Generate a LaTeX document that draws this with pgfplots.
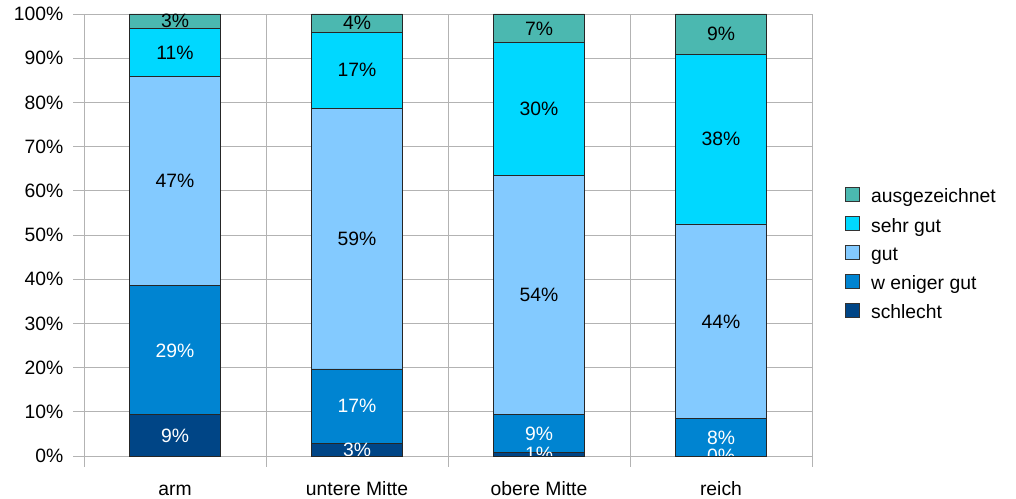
\documentclass[border=0pt]{standalone}
\usepackage{fontspec}
\setmainfont{Liberation Sans}
\usepackage{pgfplots}
\pgfplotsset{compat=1.18}
\definecolor{cSchlecht}{HTML}{004586}
\definecolor{cWeniger}{HTML}{0084D1}
\definecolor{cGut}{HTML}{83CAFF}
\definecolor{cSehr}{HTML}{00D8FF}
\definecolor{cAusg}{HTML}{4BB8B0}
\definecolor{gridgray}{HTML}{B3B3B3}
\newcommand{\chartfont}{\fontsize{14.5pt}{17pt}\selectfont}
\begin{document}
\begin{tikzpicture}
\pgfplotsset{
  common/.style={
    scale only axis, width=546pt, height=331.5pt,
    xmin=-0.5, xmax=3.5, ymin=0, ymax=100,
  }
}
\begin{axis}[common,
  ybar stacked, bar width=0.5,
  font=\chartfont,
  /pgf/number format/assume math mode=true,
  axis line style={gridgray},
  ymajorgrids, xmajorgrids, grid style={gridgray, line width=0.6pt},
  ytick={0,10,...,100}, yticklabel={\pgfmathprintnumber{\tick}\%},
  ytick style={gridgray, line width=0.6pt},
  xtick style={gridgray, line width=0.6pt},
  tick align=outside, major tick length=8pt, tick pos=left,
  xtick={-0.5,0.5,1.5,2.5,3.5}, xticklabels={},
  extra x ticks={0,1,2,3},
  extra x tick labels={arm,untere Mitte,obere Mitte,reich},
  extra x tick style={grid=none, major tick length=0pt, tick style={draw=none},
    xticklabel style={anchor=base, yshift=-29.25pt}},
  yticklabel style={xshift=-4pt},
  reverse legend,
  legend cell align=left,
  legend style={draw=none, fill=none, at={(1.04,0.617)}, anchor=north west,
    font=\chartfont, row sep=6pt},
  legend image code/.code={\draw[#1, draw=black!80] (0pt,-3.5pt) rectangle (10.5pt,7pt);
    \path[draw=none, fill=none] (0pt,0pt) -- (17pt,0pt);},
  every axis plot/.append style={draw=black!85, line width=0.6pt},
]
\addplot[fill=cSchlecht] coordinates {(0,9.3) (1,2.9) (2,0.8) (3,0.0)};
\addplot[fill=cWeniger] coordinates {(0,29.2) (1,16.8) (2,8.6) (3,8.4)};
\addplot[fill=cGut] coordinates {(0,47.4) (1,59.0) (2,54.1) (3,44.1)};
\addplot[fill=cSehr] coordinates {(0,10.8) (1,17.1) (2,30.0) (3,38.3)};
\addplot[fill=cAusg] coordinates {(0,3.3) (1,4.2) (2,6.5) (3,9.2)};
\legend{schlecht, w eniger gut, gut, sehr gut, ausgezeichnet}
\end{axis}
\begin{axis}[common, hide axis, clip marker paths=true,
  nodes near coords, point meta=explicit symbolic,
  every node near coord/.append style={anchor=center, font=\chartfont},
]
\addplot[only marks, mark=none, nodes near coords style={text=white}] table[meta=l] {
x y l
0 4.65 9\%
1 1.45 3\%
2 0.4 1\%
3 0.0 0\%
};
\addplot[only marks, mark=none, nodes near coords style={text=white}] table[meta=l] {
x y l
0 23.9 29\%
1 11.3 17\%
2 5.1 9\%
3 4.2 8\%
};
\addplot[only marks, mark=none, nodes near coords style={text=black}] table[meta=l] {
x y l
0 62.2 47\%
1 49.2 59\%
2 36.45 54\%
3 30.45 44\%
};
\addplot[only marks, mark=none, nodes near coords style={text=black}] table[meta=l] {
x y l
0 91.3 11\%
1 87.25 17\%
2 78.5 30\%
3 71.65 38\%
};
\addplot[only marks, mark=none, nodes near coords style={text=black}] table[meta=l] {
x y l
0 98.35 3\%
1 97.9 4\%
2 96.75 7\%
3 95.4 9\%
};
\end{axis}
\pgfresetboundingbox
\path (current axis.south west) ++(-63pt,-32.25pt) rectangle ++(762pt,374.25pt);
\end{tikzpicture}
\end{document}
